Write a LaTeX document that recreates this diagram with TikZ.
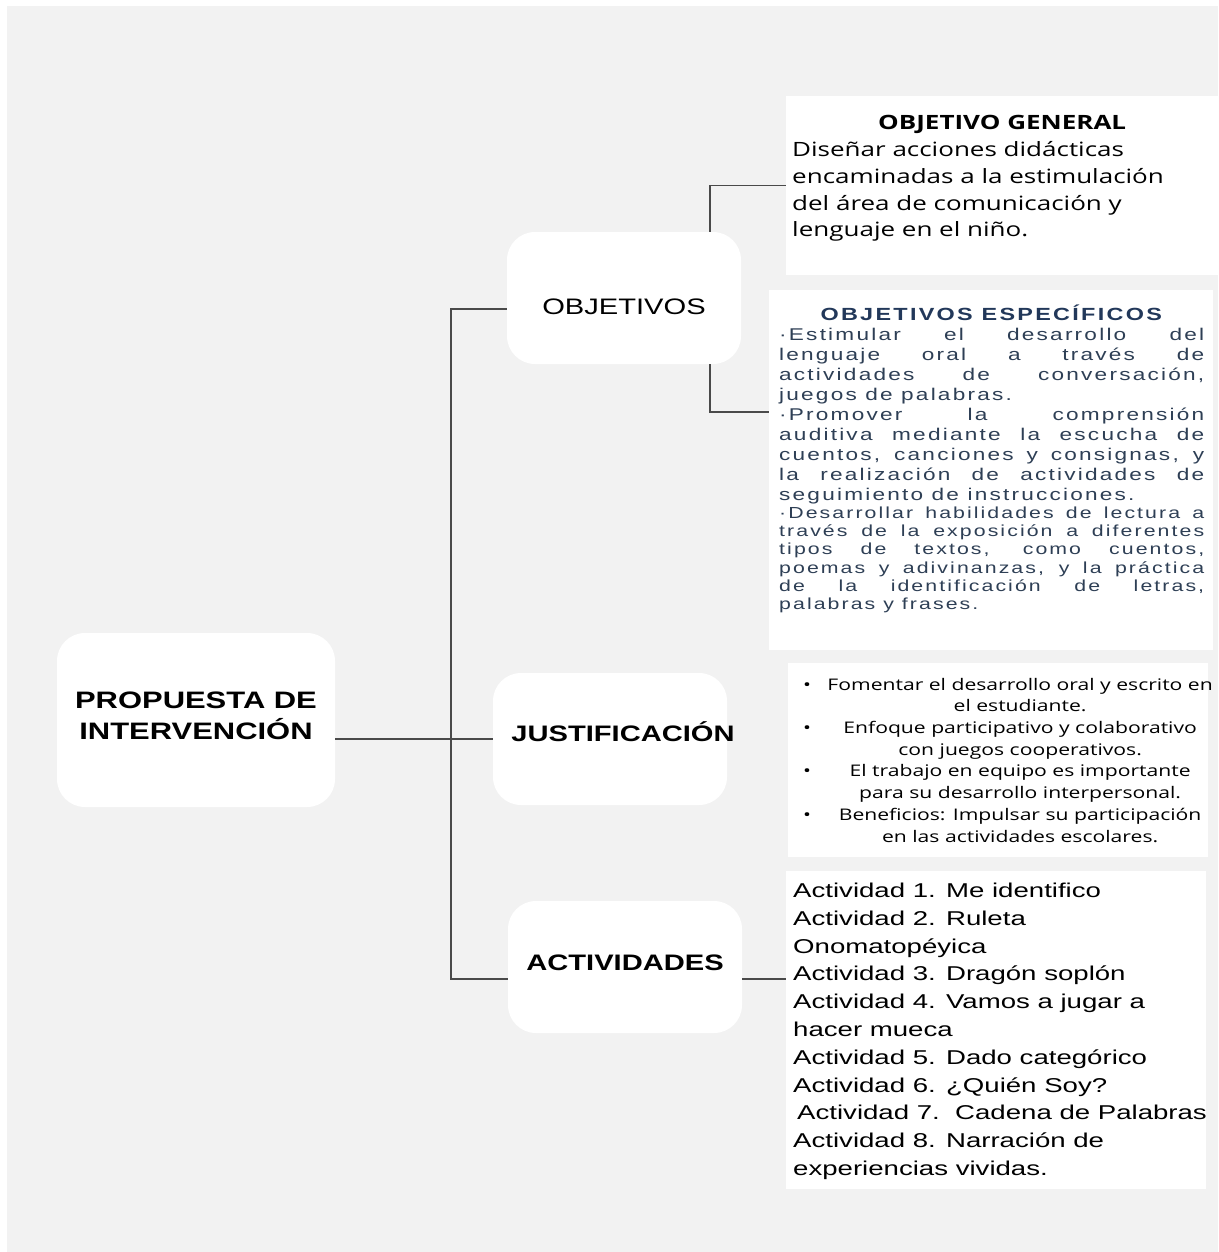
\documentclass[tikz,border=0pt]{standalone}
\usepackage{fontspec}
\usepackage{array}
\setmainfont{Liberation Sans}
\newfontfamily\hubfont[FakeStretch=1.3]{Liberation Sans}
\newfontfamily\notafont[FakeStretch=1.32]{Open Sans}
\newfontfamily\especfont[FakeStretch=1.33,LetterSpace=13]{Liberation Sans}
\newfontfamily\listafont[FakeStretch=1.38]{Liberation Sans}
\usetikzlibrary{positioning, calc}

\definecolor{fondo}{HTML}{F2F2F2}
\definecolor{linea}{HTML}{4A4A4A}
\definecolor{azultit}{HTML}{22385A}
\definecolor{azultxt}{HTML}{2E3F55}

\tikzset{
  hub/.style={fill=white, rounded corners=28pt, inner sep=0pt,
    minimum width=234pt, minimum height=132pt,
    font=\hubfont\fontsize{22.4}{27}\selectfont},
  panel/.style={fill=white, inner sep=0pt, anchor=north west},
  link/.style={draw=linea, line width=1.6pt},
}

\begin{document}
\begin{tikzpicture}[x=1pt, y=-1pt]
    \useasboundingbox (0,0) rectangle (1218,1252);
    \fill[fondo] (7,6) rectangle (1218,1252);

    % nodos principales
    \node[hub, minimum width=278pt, minimum height=174pt, align=center,
      font=\hubfont\bfseries\fontsize{23.8}{31}\selectfont] (prop) at (196,720) {PROPUESTA DE\\INTERVENCIÓN\rule[-8pt]{0pt}{8pt}};
    \node[hub, text height=33pt, text depth=0pt] (obj) at (624,298) {OBJETIVOS};
    \node[hub, text height=16pt, text depth=11.6pt] (just) at (610,739) {\makebox[0pt]{\hspace{26pt}\bfseries JUSTIFICACIÓN}};
    \node[hub, text height=16pt, text depth=10pt] (act) at (625,967) {\bfseries ACTIVIDADES};

    % cuadros de texto
    \node[panel] (gen) at (786,96) {\parbox[c][179pt][t]{432pt}{%
      \notafont\fontsize{19.7}{26.7}\selectfont\leftskip=6pt
      \vspace*{19.5pt}
      {\centering\bfseries OBJETIVO GENERAL\par}
      Diseñar acciones didácticas\\
      encaminadas a la estimulación\\
      del área de comunicación y\\
      lenguaje en el niño.}};

    \node[panel] (esp) at (769,290) {\parbox[c][360pt][t]{444pt}{%
      \especfont\fontsize{17}{20}\selectfont\color{azultxt}%
      \leftskip=10pt \rightskip=9pt \tolerance=10000 \hyphenpenalty=10000
      \vspace*{14.5pt}
      {\centering\bfseries\color{azultit}\fontsize{17.6}{20}\selectfont OBJETIVOS ESPECÍFICOS\par}
      ·Estimular el desarrollo del\linebreak
      lenguaje oral a través de\linebreak
      actividades de conversación,\linebreak
      juegos de palabras.\par
      ·Promover la comprensión\linebreak
      auditiva mediante la escucha de\linebreak
      cuentos, canciones y consignas, y\linebreak
      la realización de actividades de\linebreak
      seguimiento de instrucciones.\par
      {\fontsize{16}{18.2}\selectfont
      ·Desarrollar habilidades de lectura a\linebreak
      través de la exposición a diferentes\linebreak
      tipos de textos, como cuentos,\linebreak
      poemas y adivinanzas, y la práctica\linebreak
      de la identificación de letras,\linebreak
      palabras y frases.\par}}};

    \node[panel] (razones) at (788,663) {\parbox[c][194pt][t]{420pt}{%
      \notafont\fontsize{16}{21.7}\selectfont
      \vspace*{11.8pt}
      \hspace*{15pt}\begin{tabular}[t]{@{}l@{\hspace{11pt}}>{\centering\arraybackslash}p{396pt}@{}}
        • & Fomentar el desarrollo oral y escrito en\linebreak el estudiante.\\
        • & Enfoque participativo y colaborativo\linebreak con juegos cooperativos.\\
        • & El trabajo en equipo es importante\linebreak para su desarrollo interpersonal.\\
        • & Beneficios: Impulsar su participación\linebreak en las actividades escolares.
      \end{tabular}}};

    \node[panel] (lista) at (786,871) {\parbox[c][318pt][t]{420pt}{%
      \listafont\fontsize{20}{27.8}\selectfont\leftskip=7pt
      \vspace*{11.7pt}
      Actividad 1. Me identifico\\
      Actividad 2. Ruleta\\
      Onomatopéyica\\
      Actividad 3. Dragón soplón\\
      Actividad 4. Vamos a jugar a\\
      hacer mueca\\
      Actividad 5. Dado categórico\\
      Actividad 6. ¿Quién Soy?\\
      \mbox{\hspace{4pt}Actividad 7.\ \ Cadena de Palabras}\\
      Actividad 8. Narración de\\
      experiencias vividas.}};

    % conectores
    \coordinate (trunk) at (451,740);
    \coordinate (actline) at ([yshift=-12pt]act.east);
    \draw[link] (prop.east |- just.west) -- (just.west);
    \draw[link] ([yshift=-11pt]obj.west) -| (trunk) |- ([yshift=-12pt]act.west);
    \draw[link] ([xshift=-31pt]obj.north east) |- (gen.west);
    \draw[link] ([xshift=-31pt]obj.south east) |- ([yshift=58pt]esp.west);
    \draw[link] (actline) -- (actline -| lista.west);
\end{tikzpicture}
\end{document}
